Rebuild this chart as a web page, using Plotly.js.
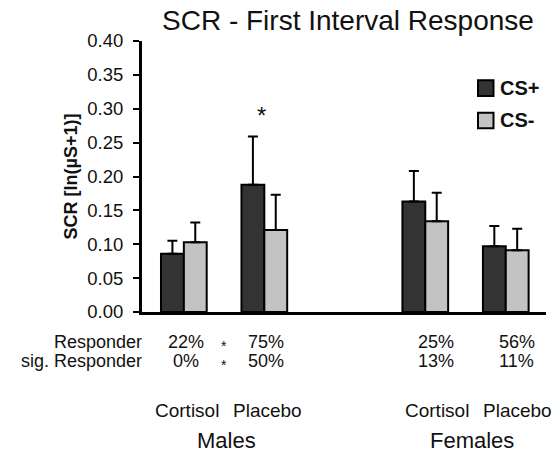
<!DOCTYPE html>
<html>
<head>
<meta charset="utf-8">
<script src="https://cdn.plot.ly/plotly-3.0.1.min.js"></script>
<style>html,body{margin:0;padding:0;background:#fff;}</style>
</head>
<body>
<div id="chart" style="width:555px;height:456px;"></div>
<script>
// ---- data ----
const sexes = ["Males", "Males", "Females", "Females"];
const treatments = ["Cortisol", "Placebo", "Cortisol", "Placebo"];
const csPlus = [0.086, 0.188, 0.163, 0.097];
const csPlusErr = [0.019, 0.071, 0.045, 0.030];
const csMinus = [0.103, 0.121, 0.134, 0.091];
const csMinusErr = [0.029, 0.052, 0.042, 0.032];
const responder = ["22%", "75%", "25%", "56%"];
const sigResponder = ["0%", "50%", "13%", "11%"];
const seriesNames = ["CS+", "CS-"];
const yTicks = [0, 0.05, 0.1, 0.15, 0.2, 0.25, 0.3, 0.35, 0.4];

// ---- layout helpers ----
const W = 555, H = 456;
const M = {l: 142, r: 9, t: 40.5, b: 144.3};
const plotH = H - M.t - M.b;
const plotW = W - M.l - M.r;
const py = p => (H - M.b - p) / plotH;      // pixel y -> paper y
const px = p => (p - M.l) / plotW;          // pixel x -> paper x
const sexList = [...new Set(sexes)];
// positions: each sex group separated by one empty slot
const xpos = treatments.map((t, i) => i + sexList.indexOf(sexes[i]));

const FONT = "Liberation Sans, Arial, sans-serif";
const darkCol = "#333333", lightCol = "#c3c3c3";

const traces = [
  {type: "bar", name: seriesNames[0], x: xpos, y: csPlus,
   marker: {color: darkCol, line: {color: "#000", width: 2}},
   error_y: {type: "data", array: csPlusErr, symmetric: false, arrayminus: csPlus.map(() => 0),
             color: "#000", thickness: 2, width: 5},
   showlegend: false},
  {type: "bar", name: seriesNames[1], x: xpos, y: csMinus,
   marker: {color: lightCol, line: {color: "#000", width: 2}},
   error_y: {type: "data", array: csMinusErr, symmetric: false, arrayminus: csMinus.map(() => 0),
             color: "#000", thickness: 2, width: 5},
   showlegend: false}
];

const ann = [];
const lab = (text, x, xref, y, size, extra) =>
  Object.assign({text, x, xref, y, yref: "paper", yanchor: "middle", xanchor: "center", showarrow: false,
                 font: {family: FONT, size, color: "#111"}}, extra || {});

// row labels
ann.push(lab("Responder", px(144), "paper", py(342), 18, {xanchor: "right"}));
ann.push(lab("sig. Responder", px(144), "paper", py(361), 18, {xanchor: "right"}));
// percentages & treatment labels
xpos.forEach((x, i) => {
  const shift = sexes[i] === "Females" ? 11 : 2;
  ann.push(lab(responder[i], x, "x", py(342), 18, {xshift: shift}));
  ann.push(lab(sigResponder[i], x, "x", py(361), 18, {xshift: shift}));
  ann.push(lab(treatments[i], x, "x", py(410), 19, {xshift: shift + 1}));
});
// sex labels
sexList.forEach(s => {
  const xs = xpos.filter((_, i) => sexes[i] === s);
  const mid = (Math.min(...xs) + Math.max(...xs)) / 2;
  ann.push(lab(s, mid, "x", py(440), 22, {xshift: s === "Females" ? 6 : 2}));
});
// significance asterisks between male groups
ann.push(lab("*", 0.5, "x", py(346), 14, {xshift: 0}));
ann.push(lab("*", 0.5, "x", py(365), 14, {xshift: 0}));
// asterisk over male placebo
ann.push({text: "*", x: xpos[1], xref: "x", y: 0.30, yref: "y", yanchor: "middle", showarrow: false,
          xshift: -3, yshift: -7, font: {family: FONT, size: 24, color: "#111"}});

// legend (manual)
const legItems = [{name: seriesNames[0], col: darkCol, y: 87.7}, {name: seriesNames[1], col: lightCol, y: 120}];
const shapes = [];
legItems.forEach(it => {
  shapes.push({type: "rect", xref: "paper", yref: "paper",
               x0: px(478), x1: px(493.5), y0: py(it.y + 7.8), y1: py(it.y - 7.8),
               fillcolor: it.col, line: {color: "#000", width: 2}});
  ann.push({text: "<b>" + it.name + "</b>", x: px(498), xref: "paper", y: py(it.y), yref: "paper",
            xanchor: "left", yanchor: "middle", showarrow: false, font: {family: FONT, size: 20, color: "#111"}});
});

const layout = {
  width: W, height: H,
  margin: M,
  paper_bgcolor: "#fff", plot_bgcolor: "#fff",
  barmode: "group", bargap: 0.432, bargroupgap: 0,
  title: {text: "SCR - First Interval Response", x: 162 / W, xanchor: "left", xref: "container",
          y: 1 - 20 / H, yanchor: "middle", yref: "container",
          font: {family: FONT, size: 28, color: "#111"}},
  xaxis: {range: [-0.52, 4.5], showgrid: false, zeroline: false, showticklabels: false,
          ticks: "", showline: true, linecolor: "#000", linewidth: 3, fixedrange: true},
  yaxis: {range: [0, 0.4], tickvals: yTicks, tickformat: ".2f", showgrid: false, zeroline: false,
          showline: true, linecolor: "#000", linewidth: 3, ticks: "outside", ticklen: 6, tickwidth: 2,
          tickcolor: "#000", ticklabelstandoff: 6,
          tickfont: {family: FONT, size: 18.5, color: "#111"},
          title: {text: "<b>SCR [ln(µS+1)]</b>", standoff: 5, font: {family: FONT, size: 18, color: "#111"}}},
  showlegend: false,
  annotations: ann,
  shapes: shapes
};

Plotly.newPlot("chart", traces, layout, {displayModeBar: false, staticPlot: true});
</script>
</body>
</html>
